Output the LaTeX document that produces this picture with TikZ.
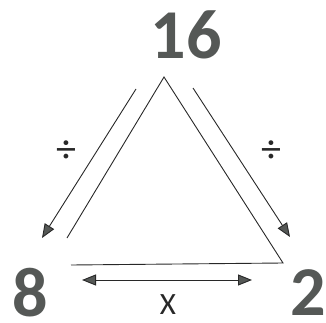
\documentclass[tikz,border=0pt]{standalone}
\usepackage{fontspec}
\setmainfont{Carlito}
\usetikzlibrary{arrows.meta}
\definecolor{numgray}{RGB}{85,88,86}
\definecolor{linegray}{RGB}{40,40,40}
\tikzset{
  num/.style={text=numgray,font=\fontsize{70}{70}\selectfont\bfseries,inner sep=0pt},
  opsign/.style={text=linegray,font=\fontsize{40}{40}\selectfont,inner sep=0pt},
  side/.style={draw=linegray,line width=0.9pt},
  flow/.style={draw=linegray,line width=0.9pt,-{Triangle[length=14pt,width=11pt,fill=numgray]}},
}
\begin{document}
\begin{tikzpicture}[x=1pt,y=1pt,yscale=-1,xscale=1]
        \useasboundingbox (0,0) rectangle (326,323);
        % numbers
        \draw (186,35) node [num] (top) {16};
        \draw (30,293) node [num] (left) {8};
        \draw (308,293) node [num] (right) {2};
        \draw (168,305) node [font=\fontsize{31}{31}\selectfont,text=linegray,inner sep=0pt] (times) {X};
        \draw (66,152) node [opsign] (divl) {÷};
        \draw (271,152) node [opsign] (divr) {÷};
        % triangle
        \coordinate (apex) at (164,77);
        \coordinate (lfoot) at (67,238);
        \coordinate (bl) at (71,265);
        \coordinate (br) at (283,263);
        \draw [side] (lfoot) -- (apex) -- (br) -- (bl);
        % arrows
        \coordinate (la1) at (136,89);
        \coordinate (la2) at (42,238);
        \coordinate (ra1) at (193,88);
        \coordinate (ra2) at (290,237);
        \coordinate (ba1) at (82,280);
        \coordinate (ba2) at (252,280);
        \draw [flow] (la1) -- (la2);
        \draw [flow] (ra1) -- (ra2);
        \draw [side,{Triangle[length=14pt,width=11pt,fill=numgray]}-{Triangle[length=14pt,width=11pt,fill=numgray]}] (ba1) -- (ba2);
    \end{tikzpicture}
\end{document}
